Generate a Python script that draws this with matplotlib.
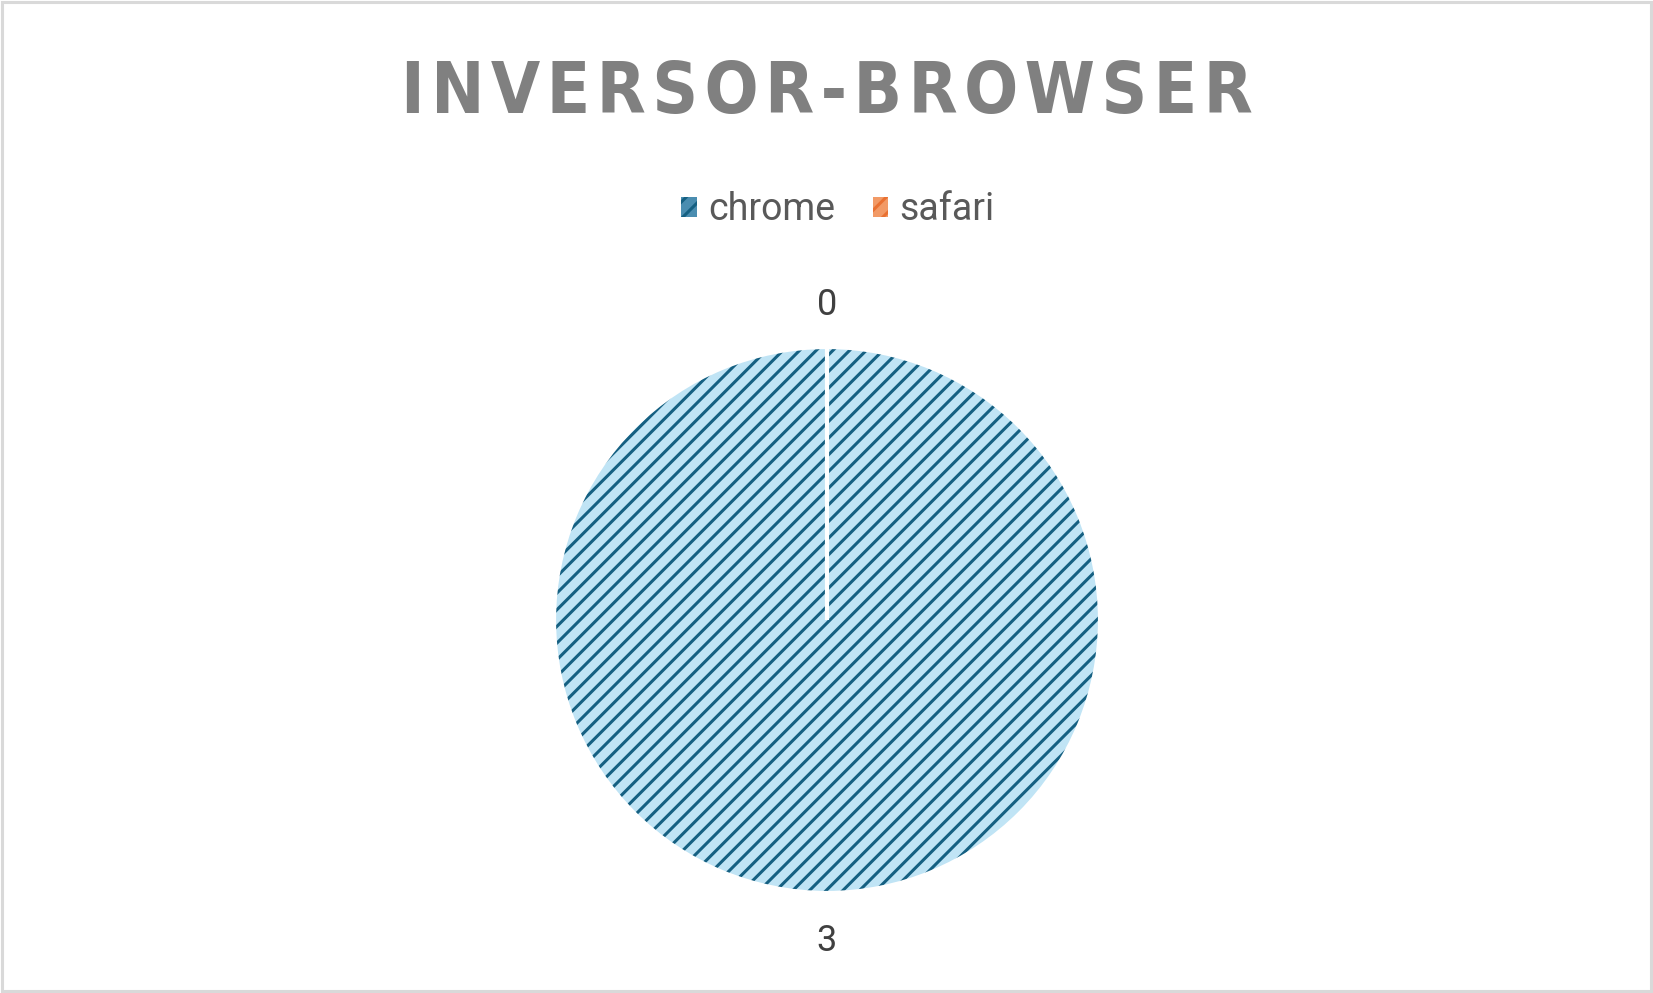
import matplotlib
matplotlib.use('Agg')
import matplotlib.pyplot as plt
from matplotlib.patches import Patch, Rectangle

# data
labels = ['chrome', 'safari']
values = [3, 0]
title = 'INVERSOR-BROWSER'

face_colors = ['#c0e4f5', '#f8cbb0']
hatch_colors = ['#156082', '#e97132']
legend_faces = ['#4a8db0', '#f29a66']

plt.rcParams['hatch.linewidth'] = 2.2

fig = plt.figure(figsize=(16.53, 9.93), dpi=100)
fig.patch.set_facecolor('white')

# light grey frame round the chart area
fig.patches.append(Rectangle((0.001, 0.002), 0.998, 0.996, transform=fig.transFigure,
                             fill=False, edgecolor='#d9d9d9', linewidth=2.2))

# pie axes: centre (827, 620) px, radius 273 px
W, H = 1653, 993
cx, cy, r = 827, 620, 273
ax = fig.add_axes([(cx - r) / W, (H - cy - r) / H, 2 * r / W, 2 * r / H])

wedges, texts = ax.pie(values, labels=[str(v) for v in values], colors=face_colors,
                       startangle=90, counterclock=False, labeldistance=1.165,
                       wedgeprops=dict(linewidth=0),
                       textprops=dict(fontsize=26, color='#404040', family='Roboto',
                                      va='center', ha='center'))
for w, hc in zip(wedges, hatch_colors):
    w.set_hatch('//')
    w.set_edgecolor(hc)
    w.set_linewidth(0)

# white separator lines between slices
sep, _ = ax.pie(values, startangle=90, counterclock=False,
                colors=['none', 'none'],
                wedgeprops=dict(edgecolor='white', linewidth=3))
for t in texts:
    t.set_clip_on(False)
    x, y = t.get_position()
    t.set_position((x, y - 0.012))
ax.set_xlim(-1, 1)
ax.set_ylim(-1, 1)
ax.axis('off')

# title with letter spacing
spaced = '\u200a'.join(title)
fig.text(cx / W, 1 - 86 / H, spaced, ha='center', va='center_baseline', fontsize=51,
         fontweight='bold', fontstretch='condensed', color='#808080',
         family=['DejaVu Sans'])

handles = [Patch(facecolor=fc, edgecolor=hc, hatch='//', linewidth=0)
           for fc, hc in zip(legend_faces, hatch_colors)]
leg = fig.legend(handles, labels, loc='center', bbox_to_anchor=((cx + 11) / W, 1 - 210 / H),
                 ncol=2, frameon=False, handlelength=0.42, handleheight=0.42,
                 handletextpad=0.3, columnspacing=1.0,
                 prop=dict(family='Roboto', size=27))
for t in leg.get_texts():
    t.set_color('#595959')

fig.savefig('out.png', dpi=100)
